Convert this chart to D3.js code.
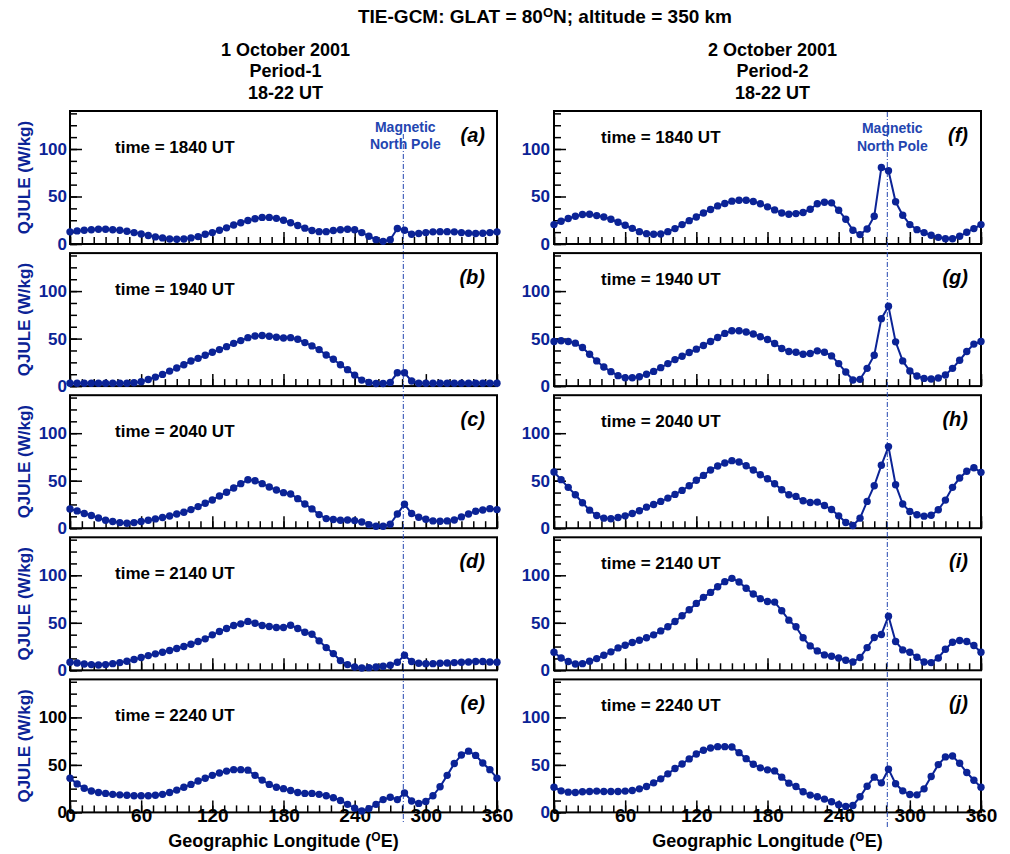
<!DOCTYPE html>
<html>
<head>
<meta charset="utf-8">
<script src="https://cdn.jsdelivr.net/npm/d3@7"></script>
<style>
  html, body { margin: 0; padding: 0; background: #fff; }
  svg { display: block; font-family: "Liberation Sans", Arial, sans-serif; font-weight: bold; }
</style>
</head>
<body>
<svg id="chart" width="1010" height="854"></svg>
<script>
// Geographic longitude grid (every 6 degrees, 0..360)
const longitudes = d3.range(0, 361, 6);

// Joule heating per unit mass (W/kg) at GLAT 80N, 350 km
const qA = [12.8,13.8,14.5,15,15.5,15.5,15,14.5,13.5,12,10.6,9,7.5,6.4,5.3,5,5.3,6.4,7.8,10.3,12,14.5,17,20,22.3,24.8,26.6,28,28,27,25,22.3,19.5,16.7,14.2,13,13,14.2,15,15.5,15,12,8.2,4.6,2.8,4.6,16.3,14.5,10.3,11,12,12.8,13,13,12.8,12,11.3,11,11.3,12,12.8];
const qB = [3,3,3,3,3,3,3,3,3,3.5,4.6,7,9.5,12.3,15.8,19,22.5,26.4,29.2,32.4,35.6,38.4,41.5,45,47.9,51,52.8,53.2,52.5,51.4,50.7,51,49.3,45.8,42.3,38.4,32.7,28.2,22.5,17.3,11.6,6.3,3.9,2.8,2.8,3.9,14,14,5.3,3,3,3,3,3,3,3,3,3,3,3,3];
const qC = [20.3,18.2,15.4,13.3,10.8,8.4,7,5.9,5.2,5.9,7,8.4,9.8,11.2,12.9,15,16.8,19.6,22.7,26.2,29.7,33.9,37.8,42.3,46.9,51,50,46.9,43.4,40.2,37.4,36,31.1,25.5,20.3,14.3,10.1,9.1,8.4,8.7,8,6.6,3.8,2.1,2.1,4.2,15,25.2,15.4,11.5,9.4,7.7,7.3,7.7,8.7,11.9,15,17.8,19.2,20.6,19.6];
const qD = [8.5,7.7,6.7,6,5.6,6,7,8.1,9.5,11.3,13.4,15.5,17.3,19,20.8,22.9,25,27.5,30.3,33.1,37.3,40.8,44,47.2,48.9,51.5,49.6,47.2,46.1,45,45,47.5,44,40.1,38,31,23.9,17.6,10.2,6,3.5,2.5,2.8,3.5,4.2,5.3,8.5,15.8,9.2,7.4,7,7,7.4,7.7,8.1,8.5,8.8,9.2,9.2,8.8,8.5];
const qE = [36,30,25.5,22.5,21,20,19,18.5,18,17.5,17.5,17.5,18,19,21,23.5,26.5,29.5,33,36,39,41.5,43.5,45,45,44.5,39,34,29.5,26.5,25,23,21,20,20,19,17.5,15.5,12.5,8.5,4.5,1.5,4,8.5,13.5,16,13.5,20.5,12,9.5,11.5,17.5,27,39,51.5,60.5,64.5,60,52,45,36];
const qF = [20.4,23.9,26.8,29.2,31,31.3,29.9,28.5,26,22.9,19.7,16.5,13,10.9,10.2,10.6,13,16.2,20.4,24.6,28.5,32.7,36.3,40.1,42.6,45.1,46.1,46.1,44.7,42.3,39.1,35.9,32.7,31.3,32,33.1,36.6,42.3,44,43.3,35.6,26,14.4,9.9,15.8,29.2,80.6,77.1,44.4,30.3,20.4,15.1,12,9.2,7,5.6,5.6,8.1,12.3,16.2,20.4];
const qG = [47,47.7,47,45.2,40.6,33.6,26.5,20.1,15.2,11,8.8,8.8,9.9,12.4,15.5,19.4,23.7,27.9,31.4,35.3,38.9,42.8,47,51.2,55.5,58.3,58.3,56.9,54.8,51.9,49.1,44.9,39.6,36.4,35.7,33.6,34.3,37.1,35.7,31.8,23.7,14.8,6.4,7.1,18.7,32.5,71,84.1,46.6,26.5,15.9,10.6,8.1,7.4,8.5,11.7,18.7,27.2,36.4,44.2,47];
const qH = [59.2,51.1,43,35.2,26.8,19,13.4,10.6,9.9,11.3,13,15.5,18.3,22.2,25,28.2,31.7,35.6,39.8,44.7,50.4,55.6,61.3,65.5,68.7,71.1,69.7,65.8,61.3,56.3,52.1,46.8,40.5,35.2,33.5,28.9,27.1,27.5,23.9,19.7,13,6,2.8,10.6,28.2,44.7,66.2,85.9,45.8,25.4,17.6,14.1,12.7,13.7,19.4,29.6,43,52.8,59.9,63.7,58.8];
const qI = [19,13,9.2,6.7,7,9.5,12.3,15.8,19.4,23.6,26.4,29.2,31.7,34.2,37.3,41.5,45.8,51.4,57.4,63.7,70.4,76.8,82,88,93.3,96.8,93,86.3,80.3,75.4,72.5,71.8,62.7,52.8,45.8,34.2,25.7,20.4,16.2,14.8,13,10.6,8.8,13.4,23.9,34.5,37.7,57,30.3,21.5,19,13.7,8.8,8.1,13,22.2,29.6,31.3,30.3,26.1,19];
const qJ = [26.6,22.7,21.3,21,21.7,22,22.4,22,22,22,22.4,23.1,24.8,27.3,31.1,35.3,40.6,46.2,51,56.3,61.5,65.4,67.8,69.2,69.2,68.9,62.9,56.6,50.7,46.9,44.8,43.7,37.1,30.8,27.3,21.7,18.2,16.4,14,11.2,8,6.3,7.3,16.4,27.6,37.1,31.1,45.5,30.1,22.7,18.9,18.5,24.8,37.8,50.3,58.4,59.4,51.7,42,33.9,26.6];

// Panel annotations
const panelLetters = [["a","b","c","d","e"], ["f","g","h","i","j"]];
const utTimes = ["1840", "1940", "2040", "2140", "2240"];
const columnHeaders = [
  ["1 October 2001", "Period-1", "18-22 UT"],
  ["2 October 2001", "Period-2", "18-22 UT"]
];
const xMajorTicks = [0, 60, 120, 180, 240, 300, 360];
const yMajorTicks = [0, 50, 100];
const magneticPoleLon = 281;

const seriesByColumn = [[qA, qB, qC, qD, qE], [qF, qG, qH, qI, qJ]];

const BLUE = "#0b2396";
const POLE_BLUE = "#2345b0";

const svg = d3.select("#chart");
svg.append("rect").attr("width", 1010).attr("height", 854).attr("fill", "#fff");

// Figure title
const title = svg.append("text")
  .attr("x", 545).attr("y", 23)
  .attr("text-anchor", "middle")
  .attr("font-size", 19).attr("fill", "#000");
title.append("tspan").text("TIE-GCM: GLAT = 80");
title.append("tspan").text("O").attr("font-size", 13).attr("dy", -6);
title.append("tspan").text("N; altitude = 350 km").attr("dy", 6);

const columns = [
  { x0: 70, x1: 497, head: 285.5, timeX: 115, timeDy: 41.5, labelDx: 12, poleTop: 134, poleBot: 822, mnpDx: 2, mnpY: [131.7, 149] },
  { x0: 554, x1: 981, head: 772.5, timeX: 601, timeDy: 32, labelDx: 13, poleTop: 112, poleBot: 828, mnpDx: 5, mnpY: [133, 150.7] }
];
const panelTop0 = 111, panelStep = 142.1, panelH = 133;

const y = d3.scaleLinear().domain([0, 140]);

columns.forEach((col, ci) => {
  const x = d3.scaleLinear().domain([0, 360]).range([col.x0, col.x1]);

  // Column headers
  columnHeaders[ci].forEach((line, li) => {
    svg.append("text")
      .attr("x", col.head).attr("y", 55.5 + li * 21.7)
      .attr("text-anchor", "middle")
      .attr("font-size", 18).attr("fill", "#000")
      .text(line);
  });

  const series = seriesByColumn[ci];

  series.forEach((vals, pi) => {
    const top = panelTop0 + pi * panelStep;
    const bottom = top + panelH;
    y.range([bottom, top]);
    const g = svg.append("g");
    const isBottom = pi === series.length - 1;

    // Minor x ticks every 10 degrees, inward
    g.append("g")
      .attr("transform", `translate(0,${bottom})`)
      .call(d3.axisBottom(x).tickValues(d3.range(0, 361, 10)).tickSizeInner(-7).tickSizeOuter(0).tickFormat(""))
      .call(a => a.select(".domain").remove())
      .call(a => a.selectAll("line").attr("stroke", "#000").attr("stroke-width", 1.5));

    // Major x ticks every 60 degrees
    const xMaj = g.append("g")
      .attr("transform", `translate(0,${bottom})`)
      .call(d3.axisBottom(x).tickValues(xMajorTicks).tickSizeInner(-12).tickSizeOuter(0)
        .tickPadding(isBottom ? 9.5 : 0)
        .tickFormat(isBottom ? d3.format("d") : ""))
      .call(a => a.select(".domain").remove())
      .call(a => a.selectAll("line").attr("stroke", "#000").attr("stroke-width", 1.5));
    xMaj.selectAll("text")
      .attr("font-size", 19).attr("font-family", "Liberation Sans, Arial, sans-serif")
      .attr("font-weight", "bold").attr("fill", "#000").attr("dy", 0);

    // Minor y ticks
    g.append("g")
      .attr("transform", `translate(${col.x0},0)`)
      .call(d3.axisLeft(y).tickValues(d3.range(0, 141, 12.5)).tickSizeInner(-7).tickSizeOuter(0).tickFormat(""))
      .call(a => a.select(".domain").remove())
      .call(a => a.selectAll("line").attr("stroke", "#000").attr("stroke-width", 1.5));

    // Major y ticks with labels
    const yLabelColor = (ci === 0 && isBottom) ? "#000" : BLUE;
    const yMaj = g.append("g")
      .attr("transform", `translate(${col.x0},0)`)
      .call(d3.axisLeft(y).tickValues(yMajorTicks).tickSizeInner(-12).tickSizeOuter(0).tickPadding(ci === 0 ? 3 : 4))
      .call(a => a.select(".domain").remove())
      .call(a => a.selectAll("line").attr("stroke", "#000").attr("stroke-width", 1.5));
    yMaj.selectAll("text")
      .attr("font-size", 17).attr("font-family", "Liberation Sans, Arial, sans-serif")
      .attr("font-weight", "bold").attr("fill", yLabelColor);

    // Panel frame
    g.append("rect")
      .attr("x", col.x0).attr("y", top)
      .attr("width", col.x1 - col.x0).attr("height", panelH)
      .attr("fill", "none").attr("stroke", "#000").attr("stroke-width", 2);

    // Y axis title (left column only)
    if (ci === 0) {
      svg.append("text")
        .attr("transform", `translate(30,${(top + bottom) / 2}) rotate(-90)`)
        .attr("text-anchor", "middle")
        .attr("font-size", 17).attr("fill", BLUE)
        .text("QJULE (W/kg)");
    }

    // Time stamp and panel letter
    svg.append("text")
      .attr("x", col.timeX).attr("y", top + col.timeDy)
      .attr("font-size", 17).attr("fill", "#000")
      .text(`time = ${utTimes[pi]} UT`);
    svg.append("text")
      .attr("x", col.x1 - col.labelDx).attr("y", top + 31)
      .attr("text-anchor", "end")
      .attr("font-size", 20).attr("font-style", "italic").attr("fill", "#000")
      .text(`(${panelLetters[ci][pi]})`);
  });

  // Magnetic north pole marker spanning the column
  svg.append("line")
    .attr("x1", x(magneticPoleLon)).attr("x2", x(magneticPoleLon))
    .attr("y1", col.poleTop).attr("y2", col.poleBot)
    .attr("stroke", POLE_BLUE).attr("stroke-width", 1)
    .attr("stroke-dasharray", "5,2,1,2");
  ["Magnetic", "North Pole"].forEach((t, i) => {
    svg.append("text")
      .attr("x", x(magneticPoleLon) + col.mnpDx).attr("y", col.mnpY[i])
      .attr("text-anchor", "middle")
      .attr("font-size", 14).attr("fill", POLE_BLUE)
      .text(t);
  });

  // Data curves and markers
  series.forEach((vals, pi) => {
    const top = panelTop0 + pi * panelStep;
    y.range([top + panelH, top]);
    const pts = longitudes.map((lon, i) => [x(lon), y(vals[i])]);
    svg.append("path")
      .attr("d", d3.line()(pts))
      .attr("fill", "none").attr("stroke", BLUE).attr("stroke-width", 2);
    svg.append("g").selectAll("circle").data(pts).join("circle")
      .attr("cx", d => d[0]).attr("cy", d => d[1]).attr("r", 3.7)
      .attr("fill", BLUE);
  });

  // X axis title
  const xt = svg.append("text")
    .attr("x", (col.x0 + col.x1) / 2).attr("y", 846.5)
    .attr("text-anchor", "middle")
    .attr("font-size", 18).attr("fill", "#000");
  xt.append("tspan").text("Geographic Longitude (");
  xt.append("tspan").text("O").attr("font-size", 12).attr("dy", -6);
  xt.append("tspan").text("E)").attr("dy", 6);
});
</script>
</body>
</html>
